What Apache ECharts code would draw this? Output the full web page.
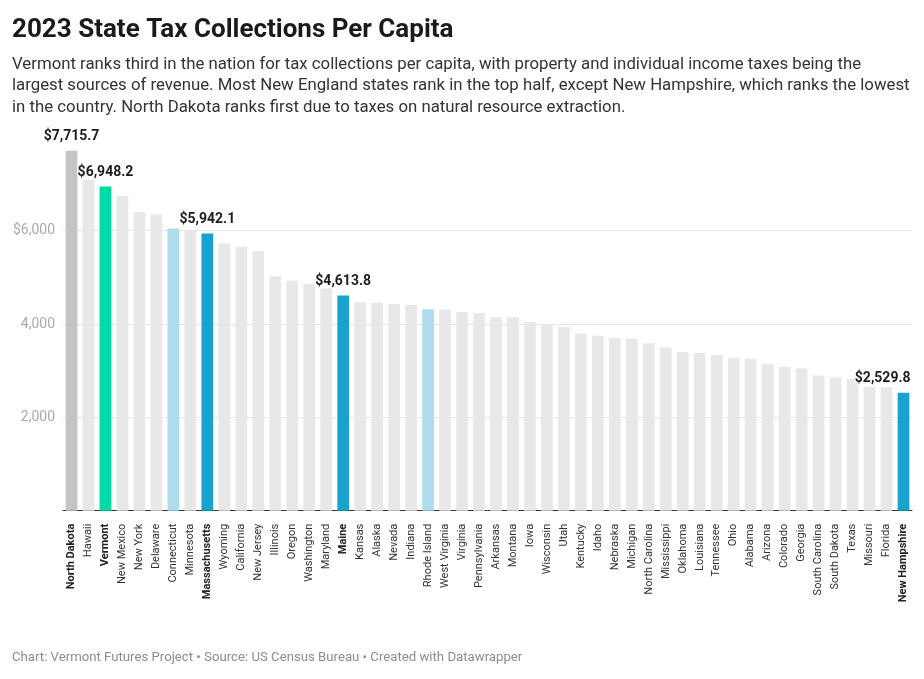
<!DOCTYPE html>
<html>
<head>
<meta charset="utf-8">
<script src="https://cdn.jsdelivr.net/npm/echarts@6/dist/echarts.min.js"></script>
<style>
html,body{margin:0;padding:0;background:#fff;}
#chart{width:924px;height:679px;}
</style>
</head>
<body>
<div id="chart"></div>
<script>
const states = ["North Dakota","Hawaii","Vermont","New Mexico","New York","Delaware","Connecticut","Minnesota","Massachusetts","Wyoming","California","New Jersey","Illinois","Oregon","Washington","Maryland","Maine","Kansas","Alaska","Nevada","Indiana","Rhode Island","West Virginia","Virginia","Pennsylvania","Arkansas","Montana","Iowa","Wisconsin","Utah","Kentucky","Idaho","Nebraska","Michigan","North Carolina","Mississippi","Oklahoma","Louisiana","Tennessee","Ohio","Alabama","Arizona","Colorado","Georgia","South Carolina","South Dakota","Texas","Missouri","Florida","New Hampshire"];
const values = [7715.7,7090,6948.2,6745,6400,6350,6050,5995,5942.1,5730,5650,5565,5025,4930,4865,4765,4613.8,4465,4450,4430,4410,4315,4310,4260,4235,4150,4148,4045,4000,3935,3795,3750,3700,3685,3590,3500,3400,3380,3335,3280,3255,3145,3080,3045,2900,2852,2830,2655,2645,2529.8];
const labelledStates = ["North Dakota","Vermont","Massachusetts","Maine","New Hampshire"];
const yTickValues = [2000,4000,6000];
const yTickLabels = ["2,000","4,000","$6,000"];

const colorMap = {
  "North Dakota":"#c4c4c4",
  "Vermont":"#00dba5",
  "Connecticut":"#addcec",
  "Rhode Island":"#addcec",
  "Massachusetts":"#19a2cd",
  "Maine":"#19a2cd",
  "New Hampshire":"#19a2cd"
};
const otherColor = "#e8e8e8";

const FONT = "Roboto, 'Noto Sans', sans-serif";

function fmtMoney(v){
  return "$" + v.toLocaleString("en-US",{minimumFractionDigits:1,maximumFractionDigits:1});
}

const barData = states.map((s,i)=>{
  const item = {value: values[i], itemStyle:{color: colorMap[s] || otherColor}};
  if (labelledStates.includes(s)) {
    item.label = {
      show:true, position:'top', distance:7,
      formatter: fmtMoney(values[i]),
      fontFamily: FONT, fontSize:14, fontWeight:'bold', color:'#1d1d1d',
      textBorderColor:'#fff', textBorderWidth:3
    };
    if (s === "New Hampshire") {
      item.label.align = 'right';
      item.label.offset = [7,0];
    }
  }
  return item;
});

const chart = echarts.init(document.getElementById('chart'), null, {renderer:'canvas'});
chart.setOption({
  animation:false,
  backgroundColor:'#fff',
  title:[
    {text:"2023 State Tax Collections Per Capita", left:12, top:17, padding:0,
     textStyle:{fontFamily:FONT, fontSize:26, fontWeight:'bold', color:'#1a1a1a'}},
    {text:"Vermont ranks third in the nation for tax collections per capita, with property and individual income taxes being the\nlargest sources of revenue. Most New England states rank in the top half, except New Hampshire, which ranks the lowest\nin the country. North Dakota ranks first due to taxes on natural resource extraction.",
     left:12, top:54, padding:0,
     textStyle:{fontFamily:FONT, fontSize:16.8, fontWeight:'normal', color:'#333', lineHeight:21.5}},
    {text:"Chart: Vermont Futures Project • Source: US Census Bureau • Created with Datawrapper",
     left:12, top:651, padding:0,
     textStyle:{fontFamily:FONT, fontSize:13.2, fontWeight:'normal', color:'#8c8c8c'}}
  ],
  grid:{left:63, right:12, top:137.4, bottom:168.3, containLabel:false},
  xAxis:{
    type:'category', data:states,
    axisLine:{show:true, lineStyle:{color:'#333', width:1}},
    axisTick:{show:false},
    axisLabel:{
      rotate:90, interval:0, margin:13,
      fontFamily:FONT, fontSize:11, color:'#333',
      formatter: function(v){ return labelledStates.includes(v) ? '{b|'+v+'}' : v; },
      rich:{b:{fontWeight:'bold', fontFamily:FONT, fontSize:11, color:'#222'}}
    }
  },
  yAxis:{
    type:'value', min:0, max:8000, interval:2000,
    axisLine:{show:false}, axisTick:{show:false},
    splitLine:{show:true, showMinLine:false, showMaxLine:false, lineStyle:{color:'#e5e5e5', width:1}},
    axisLabel:{
      showMinLabel:false, showMaxLabel:false, margin:8,
      fontFamily:FONT, fontSize:14, color:'#aaaaaa',
      formatter:function(v){ const k = yTickValues.indexOf(v); return k>=0 ? yTickLabels[k] : ''; }
    }
  },
  series:[{
    type:'bar', data:barData, barWidth:'69%', z:2
  }]
});
</script>
</body>
</html>
